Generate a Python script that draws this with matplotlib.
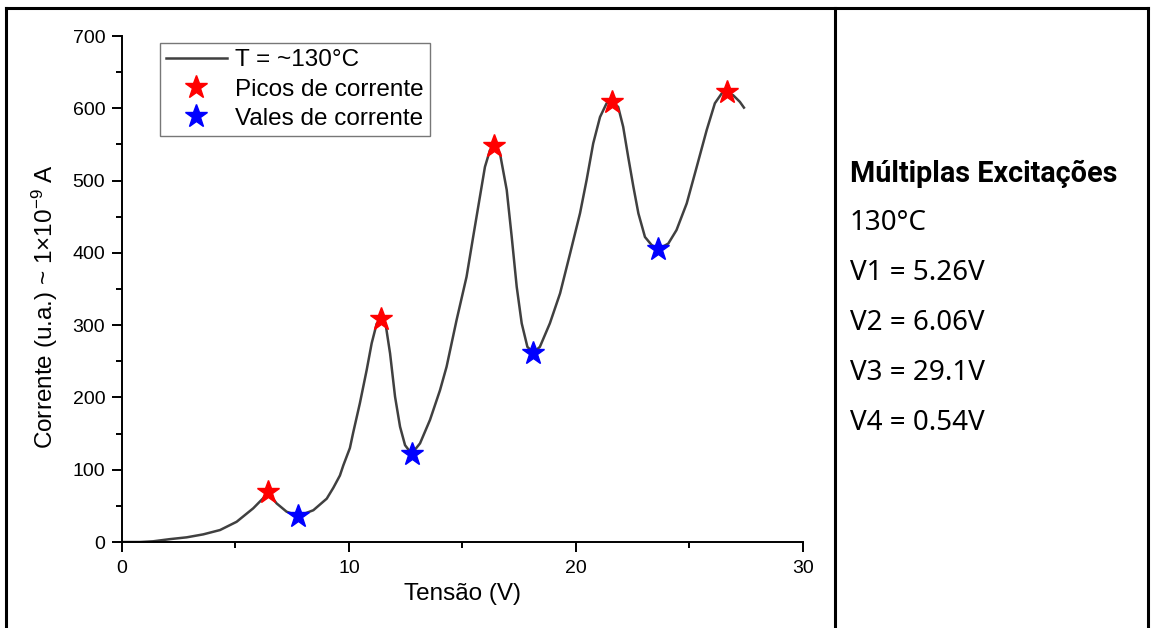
import matplotlib
matplotlib.use("Agg")
import matplotlib.pyplot as plt
from matplotlib.lines import Line2D

plt.rcParams['font.family'] = ['Liberation Sans', 'DejaVu Sans']
plt.rcParams['mathtext.default'] = 'regular'

# curva (tensao em V, corrente em u.a.)
tensao = [0.0, 0.8, 1.37, 2.11, 2.85, 3.58, 4.32, 5.05, 5.78, 6.2, 6.44,
          6.81, 7.25, 7.77, 8.43, 9.02, 9.31, 9.60, 9.75, 10.04, 10.19, 10.48,
          10.78, 11.0, 11.22, 11.40, 11.63, 11.81, 12.03, 12.25, 12.47, 12.76,
          13.13, 13.57, 14.01, 14.30, 14.74, 15.18, 15.47, 15.77, 15.99, 16.21,
          16.39, 16.65, 16.95, 17.17, 17.39, 17.61, 17.86, 18.12, 18.41, 18.85,
          19.30, 19.74, 20.18, 20.47, 20.76, 21.06, 21.35, 21.57, 21.86, 22.08,
          22.30, 22.53, 22.75, 23.04, 23.33, 23.63, 24.07, 24.43, 24.88, 25.32,
          25.76, 26.12, 26.42, 26.64, 26.93, 27.22, 27.40]
corrente = [0, 0, 1, 4, 6.5, 10.6, 16.6, 28, 46.6, 60, 69,
            53.5, 42, 36, 44, 60, 75, 92, 106, 130, 152, 192,
            238, 275, 302, 309, 298, 261, 201, 159.5, 134, 122,
            136.5, 169, 210, 242.5, 307, 367, 422, 478, 519, 542,
            548, 538, 487, 422, 353, 302.5, 270, 262, 270, 302.5,
            344, 399, 455, 501, 551.5, 588, 607, 609, 602, 574.5,
            533, 491.5, 454.7, 422, 411, 405, 413, 431.6, 468.5, 519,
            570, 607, 620.6, 623, 618, 609, 601]

picos_x = [6.44, 11.40, 16.39, 21.57, 26.64]
picos_y = [69, 309, 548, 609, 623]
vales_x = [7.77, 12.76, 18.12, 23.63]
vales_y = [36, 122, 262, 405]

titulo = "Múltiplas Excitações"
info = ["130°C", "V1 = 5.26V", "V2 = 6.06V", "V3 = 29.1V", "V4 = 0.54V"]

fig = plt.figure(figsize=(11.52, 6.28), dpi=100)
ax = fig.add_axes([0.1059, 0.1369, 0.5911, 0.8057])

ax.plot(tensao, corrente, color='#404040', lw=1.8, label='T = ~130°C', zorder=2)
ax.plot(picos_x, picos_y, ls='none', marker='*', ms=17, color='#ff0000',
        label='Picos de corrente', zorder=3)
ax.plot(vales_x, vales_y, ls='none', marker='*', ms=17, color='#0000ff',
        label='Vales de corrente', zorder=3)

ax.set_xlim(0, 30)
ax.set_ylim(0, 700)
ax.set_xticks([0, 10, 20, 30])
ax.set_xticks([5, 15, 25], minor=True)
ax.set_yticks(range(0, 701, 100))
ax.set_yticks(range(50, 700, 100), minor=True)
for s in ['top', 'right']:
    ax.spines[s].set_visible(False)
for s in ['left', 'bottom']:
    ax.spines[s].set_linewidth(1.4)
ax.tick_params(which='major', direction='out', length=7, width=1.4, labelsize=14)
ax.tick_params(axis='y', which='major', pad=5)
ax.tick_params(axis='x', which='major', pad=6)
ax.tick_params(which='minor', direction='out', length=4.5, width=1.4)

ax.set_xlabel('Tensão (V)', fontsize=17.5)
ax.xaxis.set_label_coords(0.5, -0.08)
ax.set_ylabel('Corrente (u.a.) ~ 1×10$^{-9}$ A', fontsize=17.5)
ax.yaxis.set_label_coords(-0.113, 0.466)
ax.yaxis.label.set_va('center')

leg = ax.legend(loc='upper left', bbox_to_anchor=(0.0558, 0.986), borderaxespad=0,
                fontsize=17.5, frameon=True, fancybox=False, handlelength=2.5,
                handletextpad=0.35, labelspacing=0.3, borderpad=0.25)
leg.get_frame().set_edgecolor('#555555')
leg.get_frame().set_linewidth(1.0)

# painel da direita
fig.text(850 / 1152, 1 - 174 / 628, titulo, fontsize=20.7,
         fontweight='bold', family='Roboto', va='center', ha='left')
for i, t in enumerate(info):
    fig.text(850 / 1152, 1 - (223 + 50 * i) / 628, t, fontsize=20,
             family='Noto Sans', va='center', ha='left')

# moldura da tabela
for xs, ys in [([6, 6], [8, 628]), ([6, 1148], [8, 8]), ([835, 835], [8, 628]),
               ([1148, 1148], [8, 628])]:
    fig.add_artist(Line2D([x / 1152 for x in xs], [1 - y / 628 for y in ys],
                          color='black', lw=2.2))

fig.savefig('out.png', dpi=100)
